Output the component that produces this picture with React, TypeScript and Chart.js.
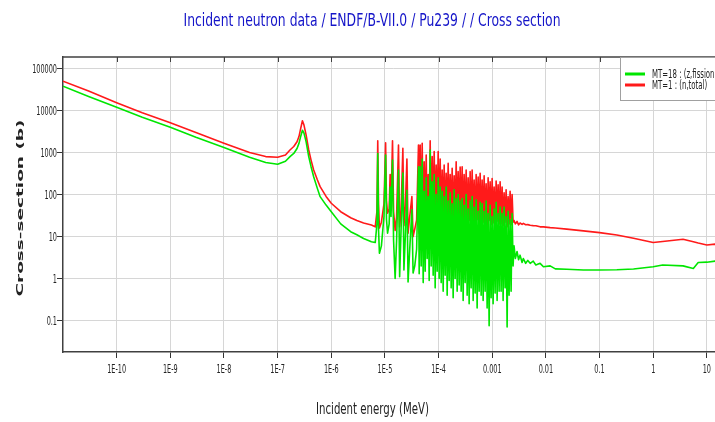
import React, { useEffect, useRef } from "react";
import { Chart, registerables } from "chart.js";

Chart.register(...registerables);

// ---------- data ----------
const energyMeV = [
  // smooth 1/v region and the 0.3 eV resonance
  1e-11, 3e-11, 1e-10, 3e-10, 1e-9, 3e-9, 1e-8, 3e-8, 6e-8, 1e-7,
  1.4e-7, 1.7e-7, 2.0e-7, 2.3e-7, 2.5e-7, 2.7e-7, 2.9e-7, 3.1e-7, 3.4e-7, 3.8e-7,
  4.2e-7, 4.7e-7, 5.5e-7, 6.2e-7, 8e-7, 1e-6, 1.5e-6, 2.3e-6, 3e-6, 4e-6,
  5.6e-6, 6.6e-6,
  // isolated resonances
  7.1e-6, 7.35e-6, 7.6e-6, 7.9e-6, 8.6e-6, 9.6e-6, 1.03e-5, 1.07e-5, 1.12e-5, 1.2e-5,
  1.25e-5, 1.3e-5, 1.385e-5, 1.45e-5, 1.55e-5, 1.65e-5, 1.79e-5, 1.88e-5, 2.0e-5, 2.16e-5,
  2.26e-5, 2.4e-5, 2.57e-5, 2.7e-5, 2.9e-5, 3.18e-5, 3.35e-5, 3.6e-5, 3.9e-5, 4.22e-5,
  // dense resolved-resonance region
  4.35e-5, 4.54e-5, 4.74e-5, 4.95e-5, 5.17e-5, 5.39e-5, 5.63e-5, 5.88e-5, 6.13e-5, 6.40e-5,
  6.68e-5, 6.97e-5, 7.28e-5, 7.60e-5, 7.93e-5, 8.28e-5, 8.64e-5, 9.02e-5, 9.41e-5, 9.83e-5,
  1.026e-4, 1.071e-4, 1.118e-4, 1.167e-4, 1.218e-4, 1.271e-4, 1.327e-4, 1.385e-4, 1.446e-4, 1.509e-4,
  1.575e-4, 1.644e-4, 1.716e-4, 1.791e-4, 1.870e-4, 1.952e-4, 2.037e-4, 2.127e-4, 2.220e-4, 2.317e-4,
  2.418e-4, 2.524e-4, 2.635e-4, 2.750e-4, 2.871e-4, 2.996e-4, 3.128e-4, 3.265e-4, 3.408e-4, 3.557e-4,
  3.713e-4, 3.876e-4, 4.045e-4, 4.223e-4, 4.408e-4, 4.601e-4, 4.802e-4, 5.013e-4, 5.232e-4, 5.462e-4,
  5.701e-4, 5.950e-4, 6.211e-4, 6.483e-4, 6.767e-4, 7.064e-4, 7.373e-4, 7.696e-4, 8.033e-4, 8.385e-4,
  8.753e-4, 9.136e-4, 9.537e-4, 9.955e-4, 1.039e-3, 1.085e-3, 1.132e-3, 1.182e-3, 1.233e-3, 1.287e-3,
  1.344e-3, 1.403e-3, 1.464e-3, 1.528e-3, 1.595e-3, 1.665e-3, 1.738e-3, 1.814e-3, 1.894e-3, 1.977e-3,
  2.063e-3, 2.154e-3, 2.248e-3, 2.347e-3, 2.449e-3,
  // unresolved / fast region
  2.55e-3, 2.7e-3, 2.9e-3, 3.1e-3, 3.3e-3, 3.6e-3, 3.8e-3, 4.2e-3, 4.6e-3, 5.1e-3,
  5.8e-3, 6.5e-3, 7.8e-3, 9e-3, 0.012, 0.015, 0.0245, 0.05, 0.1, 0.21,
  0.43, 1.0, 1.5, 3.6, 5.6, 6.9, 10, 14.2, 20,
];

const sigmaFission = [
  38000, 21500, 11900, 6900, 3980, 2300, 1320, 770, 580, 525,
  620, 800, 950, 1250, 1650, 2450, 3400, 2900, 1800, 800,
  460, 265, 140, 89, 56, 39, 20, 13, 11, 9,
  7.5, 7.2,
  20, 950, 15, 4, 6, 30, 870, 25, 12, 20,
  150, 30, 660, 8, 1.0, 8, 380, 1.1, 15, 325,
  1.6, 10, 126, 0.83, 5, 43, 1.35, 2, 5, 460,
  1.3, 460, 2, 700, 0.8, 120, 1.5, 250, 3, 90,
  0.9, 1150, 2, 200, 1.2, 300, 0.6, 100, 1.5, 250,
  1.0, 150, 0.8, 120, 0.5, 90, 1.2, 150, 0.4, 70,
  0.9, 110, 0.6, 60, 0.35, 130, 1.0, 80, 0.5, 100,
  0.7, 70, 0.5, 80, 0.3, 55, 0.8, 100, 0.4, 45,
  0.25, 70, 0.6, 90, 0.3, 50, 0.45, 75, 0.2, 40,
  0.5, 65, 0.4, 60, 0.3, 40, 0.5, 70, 0.2, 35,
  0.075, 55, 0.35, 30, 0.25, 45, 0.45, 65, 0.3, 35,
  0.5, 50, 0.5, 35, 0.3, 50, 0.6, 30, 0.07, 40,
  0.4, 25, 0.5, 35, 2,
  6, 3, 4.4, 2.8, 3.6, 2.4, 3.0, 2.3, 2.7, 2.3,
  2.6, 2.1, 2.3, 1.9, 2.0, 1.7, 1.66, 1.6, 1.6, 1.62,
  1.68, 1.9, 2.1, 2.0, 1.74, 2.4, 2.45, 2.6, 2.6,
];

const sigmaTotal = [
  50000, 29000, 15300, 8800, 5130, 3000, 1660, 1000, 800, 770,
  870, 1150, 1390, 1800, 2400, 3800, 5700, 4500, 2600, 1150,
  660, 385, 225, 154, 90, 62, 39, 28, 24, 21,
  18.7, 17,
  40, 1900, 60, 16, 22, 60, 1700, 70, 36, 45,
  300, 60, 1900, 40, 14, 30, 1500, 17, 40, 1260,
  18, 50, 700, 12, 30, 89, 10, 15, 25, 1500,
  12, 1500, 25, 1650, 15, 600, 30, 870, 20, 300,
  40, 1900, 25, 800, 30, 1050, 20, 500, 35, 1050,
  25, 700, 20, 385, 25, 500, 18, 320, 30, 550,
  22, 300, 28, 420, 20, 280, 25, 600, 22, 350,
  30, 450, 22, 460, 18, 300, 25, 380, 20, 250,
  24, 350, 18, 385, 22, 220, 20, 300, 25, 260,
  20, 320, 18, 220, 22, 280, 20, 180, 17, 250,
  24, 200, 19, 240, 21, 150, 18, 210, 23, 170,
  20, 200, 20, 150, 18, 110, 22, 130, 17, 90,
  20, 120, 19, 100, 22,
  24, 20, 23, 19, 21, 19.5, 20.5, 19, 19.2, 18.5,
  18.2, 18, 17, 17, 16.3, 16, 15, 13.6, 12.4, 10.9,
  9.1, 7.2, 7.6, 8.6, 7.5, 7.0, 6.3, 6.6, 6.0,
];

const seriesNames = ["MT=18 : (z,fission)", "MT=1 : (n,total)"];
const seriesColors = ["#00e600", "#ff1a1a"];

const xTickValues = [1e-10, 1e-9, 1e-8, 1e-7, 1e-6, 1e-5, 1e-4, 1e-3, 1e-2, 1e-1, 1, 10];
const xTickLabels = ["1E-10", "1E-9", "1E-8", "1E-7", "1E-6", "1E-5", "1E-4", "0.001", "0.01", "0.1", "1", "10"];
const yTickValues = [0.1, 1, 10, 100, 1000, 10000, 100000];
const yTickLabels = ["0.1", "1", "10", "100", "1000", "10000", "100000"];

const titleText = "Incident neutron data / ENDF/B-VII.0 / Pu239 / / Cross section";
const xTitleText = "Incident energy (MeV)";
const yTitleText = "Cross-section (b)";

// ---------- drawing helpers ----------
const BASE_FONT = '"DejaVu Sans", sans-serif';

function squishText(ctx: CanvasRenderingContext2D, text: string, x: number, y: number, font: string, color: string, sx: number, align: CanvasTextAlign) {
  ctx.save();
  ctx.font = font;
  ctx.fillStyle = color;
  ctx.textAlign = align;
  ctx.textBaseline = "alphabetic";
  ctx.translate(x, y);
  ctx.scale(sx, 1);
  ctx.fillText(text, 0, 0);
  ctx.restore();
}

function fitText(ctx: CanvasRenderingContext2D, text: string, cx: number, y: number, font: string, color: string, width: number) {
  ctx.save();
  ctx.font = font;
  const w = ctx.measureText(text).width;
  ctx.fillStyle = color;
  ctx.textAlign = "center";
  ctx.textBaseline = "alphabetic";
  ctx.translate(cx, y);
  ctx.scale(width / w, 1);
  ctx.fillText(text, 0, 0);
  ctx.restore();
}

const decorPlugin = {
  id: "decor",
  beforeDraw(chart: any) {
    const ctx = chart.ctx as CanvasRenderingContext2D;
    ctx.save();
    ctx.fillStyle = "#ffffff";
    ctx.fillRect(0, 0, chart.width, chart.height);
    ctx.restore();
  },
  afterDraw(chart: any) {
    const ctx = chart.ctx as CanvasRenderingContext2D;
    const a = chart.chartArea;
    const xs = chart.scales.x;
    const ys = chart.scales.y;

    // top frame + small inner ticks
    ctx.save();
    ctx.strokeStyle = "#404040";
    ctx.lineWidth = 1.5;
    ctx.beginPath();
    ctx.moveTo(a.left, a.top);
    ctx.lineTo(a.right, a.top);
    ctx.stroke();
    ctx.lineWidth = 1;
    xTickValues.forEach((v) => {
      const px = Math.round(xs.getPixelForValue(v)) + 0.5;
      ctx.beginPath();
      ctx.moveTo(px, a.top);
      ctx.lineTo(px, a.top + 5);
      ctx.stroke();
    });
    ctx.restore();

    // tick labels
    const tickFont = "13px " + BASE_FONT;
    xTickValues.forEach((v, i) => {
      squishText(ctx, xTickLabels[i], xs.getPixelForValue(v), a.bottom + 21, tickFont, "#222", 0.5, "center");
    });
    yTickValues.forEach((v, i) => {
      squishText(ctx, yTickLabels[i], a.left - 6, ys.getPixelForValue(v) + 4.5, tickFont, "#222", 0.5, "right");
    });

    // titles
    fitText(ctx, titleText, 372, 26, "18px " + BASE_FONT, "#1414c8", 377);
    fitText(ctx, xTitleText, 372.5, 414, "15px " + BASE_FONT, "#222", 113);

    // rotated y title
    ctx.save();
    ctx.font = "bold 15px " + BASE_FONT;
    const yw = ctx.measureText(yTitleText).width;
    ctx.fillStyle = "#222";
    ctx.textAlign = "center";
    ctx.textBaseline = "middle";
    ctx.translate(21, 208);
    ctx.scale(0.62, 1);
    ctx.rotate(-Math.PI / 2);
    ctx.scale(177 / yw, 1);
    ctx.fillText(yTitleText, 0, 0);
    ctx.restore();

    // legend box
    ctx.save();
    const lx = 620.5;
    const ly = a.top + 0.5;
    ctx.fillStyle = "#ffffff";
    ctx.fillRect(lx, ly, 200, 43);
    ctx.strokeStyle = "#a0a0a0";
    ctx.lineWidth = 1;
    ctx.strokeRect(lx, ly, 200, 43);
    const rows = [74, 85];
    seriesNames.forEach((name, i) => {
      ctx.strokeStyle = seriesColors[i];
      ctx.lineWidth = 3;
      ctx.beginPath();
      ctx.moveTo(625, rows[i]);
      ctx.lineTo(645, rows[i]);
      ctx.stroke();
      squishText(ctx, name, 652, rows[i] + 4, "12px " + BASE_FONT, "#222", 0.58, "left");
    });
    ctx.restore();
  },
};

export default function App() {
  const canvasRef = useRef<HTMLCanvasElement | null>(null);

  useEffect(() => {
    const canvas = canvasRef.current;
    if (!canvas) return;
    const chart = new Chart(canvas, {
      type: "line",
      data: {
        datasets: [
          {
            label: seriesNames[0],
            data: energyMeV.map((e, i) => ({ x: e, y: sigmaFission[i] })),
            borderColor: seriesColors[0],
            borderWidth: 1.6,
            pointRadius: 0,
            tension: 0,
            fill: false,
            borderJoinStyle: "round",
          },
          {
            label: seriesNames[1],
            data: energyMeV.map((e, i) => ({ x: e, y: sigmaTotal[i] })),
            borderColor: seriesColors[1],
            borderWidth: 1.6,
            pointRadius: 0,
            tension: 0,
            fill: false,
            borderJoinStyle: "round",
          },
        ],
      },
      options: {
        responsive: false,
        animation: false,
        devicePixelRatio: 1,
        layout: { padding: { left: 0, top: 57, right: 17, bottom: 0 } },
        plugins: {
          legend: { display: false },
          title: { display: false },
          tooltip: { enabled: false },
        },
        scales: {
          x: {
            type: "logarithmic",
            position: "bottom",
            min: 1e-11,
            max: 20,
            afterBuildTicks: (s: any) => {
              s.ticks = xTickValues.map((v) => ({ value: v }));
            },
            afterFit: (s: any) => {
              s.height = 70;
            },
            ticks: { display: false, autoSkip: false },
            grid: { color: "#d6d6d6", lineWidth: 1, tickLength: 6, tickColor: "#333", drawTicks: true },
            border: { color: "#404040", width: 1.5 },
          },
          y: {
            type: "logarithmic",
            position: "left",
            min: 0.0178,
            max: 188000,
            afterBuildTicks: (s: any) => {
              s.ticks = yTickValues.map((v) => ({ value: v }));
            },
            afterFit: (s: any) => {
              s.width = 63;
            },
            ticks: { display: false, autoSkip: false },
            grid: { color: "#d6d6d6", lineWidth: 1, tickLength: 6, tickColor: "#333", drawTicks: true },
            border: { color: "#404040", width: 1.5 },
          },
        },
      },
      plugins: [decorPlugin],
    } as any);
    return () => chart.destroy();
  }, []);

  return (
    <div style={{ position: "fixed", left: 0, top: 0, width: 715, height: 422, overflow: "hidden", background: "#fff" }}>
      <canvas ref={canvasRef} width={740} height={422} style={{ display: "block", width: 740, height: 422 }} />
    </div>
  );
}
